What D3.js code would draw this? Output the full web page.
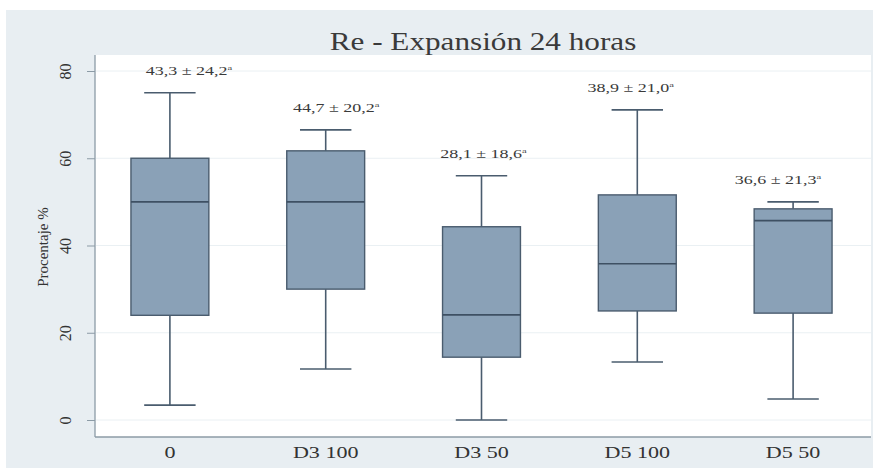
<!DOCTYPE html>
<html>
<head>
<meta charset="utf-8">
<script src="https://cdn.jsdelivr.net/npm/d3@7"></script>
<style>
  html, body { margin: 0; padding: 0; background: #ffffff; }
  svg { display: block; }
  text { font-family: "Liberation Serif", "DejaVu Serif", serif; }
</style>
</head>
<body>
<svg id="chart" width="880" height="470"></svg>
<script>
// Groups and their box-plot summaries (percent)
const categories = ["0", "D3 100", "D3 50", "D5 100", "D5 50"];
const whiskerLow = [3.4, 11.7, 0.0, 13.3, 4.8];
const q1 = [24.0, 30.0, 14.4, 25.0, 24.5];
const median = [50.0, 50.0, 24.1, 35.8, 45.7];
const q3 = [60.0, 61.7, 44.3, 51.6, 48.4];
const whiskerHigh = [75.0, 66.5, 56.0, 71.1, 50.0];
const meanSd = ["43,3 ± 24,2", "44,7 ± 20,2", "28,1 ± 18,6", "38,9 ± 21,0", "36,6 ± 21,3"];
const yTicks = [0, 20, 40, 60, 80];

const svg = d3.select("#chart");
const wide = 1.3; // horizontal stretch applied to the serif lettering

// outer panel
svg.append("rect").attr("x", 6).attr("y", 10).attr("width", 867).attr("height", 458)
  .attr("fill", "#e8eef2");

const plot = { left: 95, right: 871, top: 55, bottom: 437 };
svg.append("rect").attr("x", plot.left).attr("y", plot.top)
  .attr("width", plot.right - plot.left).attr("height", plot.bottom - plot.top)
  .attr("fill", "#ffffff");

const y = d3.scaleLinear().domain([0, 80]).range([420, 71]);
const x = d3.scaleBand().domain(categories).range([92, 871]).paddingInner(0.5).paddingOuter(0.25);
// the mean ± SD notes sit on their own, slightly narrower, spacing
const xNote = d3.scalePoint().domain(categories).range([189, 778]);

// grid
svg.append("g").selectAll("line").data(yTicks).join("line")
  .attr("x1", plot.left + 1).attr("x2", plot.right)
  .attr("y1", d => y(d)).attr("y2", d => y(d))
  .attr("stroke", "#eaf0f3").attr("stroke-width", 1);

// y axis
const yAxis = svg.append("g").attr("transform", `translate(${plot.left},0)`)
  .call(d3.axisLeft(y).tickValues(yTicks).tickSize(8).tickPadding(14));
yAxis.select(".domain").attr("d", `M0,${plot.top}V${plot.bottom}`).attr("stroke", "#8c9ba6").attr("stroke-width", 1.3);
yAxis.selectAll(".tick line").attr("stroke", "#8c9ba6");
yAxis.selectAll(".tick text")
  .attr("font-size", 16).attr("fill", "#333")
  .attr("text-anchor", "middle").attr("dy", null).attr("x", null)
  .attr("transform", "translate(-30,0) rotate(-90)")
  .attr("dominant-baseline", "central");

// x axis
const xAxis = svg.append("g").attr("transform", `translate(0,${plot.bottom})`)
  .call(d3.axisBottom(x).tickSize(0).tickPadding(10));
xAxis.select(".domain").attr("d", `M${plot.left},0H${plot.right}`).attr("stroke", "#8c9ba6").attr("stroke-width", 1.3);
xAxis.selectAll(".tick text")
  .attr("font-size", 17).attr("fill", "#333")
  .attr("y", null).attr("dy", null)
  .attr("dominant-baseline", "central")
  .attr("transform", `translate(0,15) scale(${wide},1)`);

// y label
svg.append("text").attr("transform", `translate(43,247) rotate(-90)`)
  .attr("text-anchor", "middle").attr("dominant-baseline", "central")
  .attr("font-size", 15).attr("fill", "#333").text("Procentaje %");

// title
svg.append("text").attr("transform", "translate(483,50) scale(1.2,1)").attr("text-anchor", "middle")
  .attr("font-size", 26).attr("fill", "#3a3a3a").text("Re - Expansión 24 horas");

// boxes
const stroke = "#4a5c6e";
const g = svg.append("g");
categories.forEach((c, i) => {
  const x0 = x(c), w = x.bandwidth(), cx = x0 + w / 2, cap = w * 0.33;
  g.append("line").attr("x1", cx).attr("x2", cx).attr("y1", y(whiskerHigh[i])).attr("y2", y(q3[i]))
    .attr("stroke", stroke).attr("stroke-width", 1.6);
  g.append("line").attr("x1", cx).attr("x2", cx).attr("y1", y(q1[i])).attr("y2", y(whiskerLow[i]))
    .attr("stroke", stroke).attr("stroke-width", 1.6);
  g.append("line").attr("x1", cx - cap).attr("x2", cx + cap).attr("y1", y(whiskerHigh[i])).attr("y2", y(whiskerHigh[i]))
    .attr("stroke", stroke).attr("stroke-width", 1.6);
  g.append("line").attr("x1", cx - cap).attr("x2", cx + cap).attr("y1", y(whiskerLow[i])).attr("y2", y(whiskerLow[i]))
    .attr("stroke", stroke).attr("stroke-width", 1.6);
  g.append("rect").attr("x", x0).attr("width", w).attr("y", y(q3[i])).attr("height", y(q1[i]) - y(q3[i]))
    .attr("fill", "#8aa1b7").attr("stroke", stroke).attr("stroke-width", 1.4);
  g.append("line").attr("x1", x0).attr("x2", x0 + w).attr("y1", y(median[i])).attr("y2", y(median[i]))
    .attr("stroke", "#3e5063").attr("stroke-width", 1.6);
  const t = g.append("text")
    .attr("transform", `translate(${xNote(c)},${y(whiskerHigh[i]) - 18}) scale(1.5,1)`)
    .attr("text-anchor", "middle").attr("font-size", 12).attr("fill", "#3a3a3a").text(meanSd[i]);
  t.append("tspan").attr("font-size", 7).attr("dy", -5).text("a");
});
</script>
</body>
</html>
